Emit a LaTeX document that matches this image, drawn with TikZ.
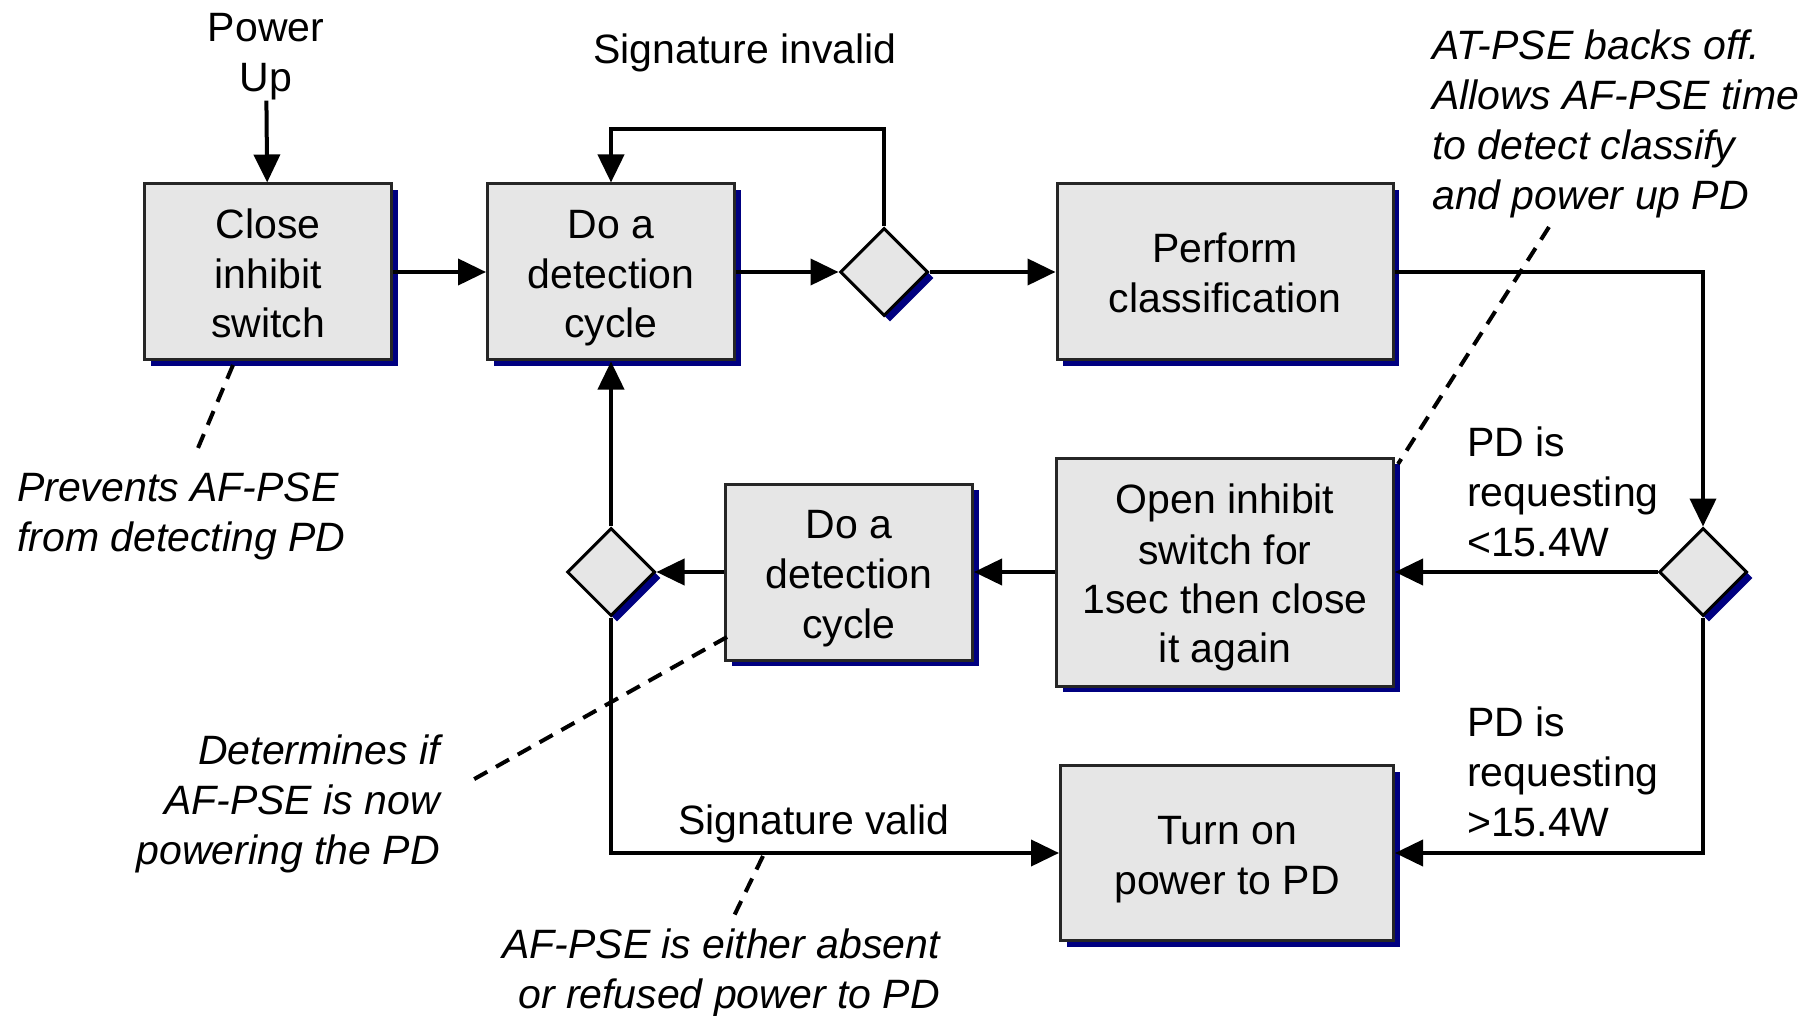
\documentclass[tikz,border=0pt]{standalone}
\usepackage{fontspec}
\setmainfont{Liberation Sans}
\usetikzlibrary{arrows.meta,shapes.geometric,shadows}
\definecolor{boxfill}{HTML}{E6E6E6}
\definecolor{shadowblue}{HTML}{000080}
\newcommand\ls{\rule[-9pt]{0pt}{50pt}}
\newcommand\lt{\rule[-8pt]{0pt}{49pt}}
\begin{document}
\begin{tikzpicture}[x=1pt,y=-1pt,
  txt/.style={font=\fontsize{41}{50}\selectfont, align=center, inner sep=0pt},
  itxt/.style={font=\fontsize{41}{50}\selectfont\itshape, inner sep=0pt},
  navyshadow/.style={drop shadow={shadow xshift=6pt, shadow yshift=-6pt, fill=shadowblue, opacity=1}},
  procbox/.style={draw=black!85, line width=3pt, fill=boxfill, inner sep=0pt, align=center,
    font=\fontsize{41}{50}\selectfont, navyshadow},
  decis/.style={diamond, draw=black, line width=3pt, fill=boxfill, inner sep=0pt,
    minimum width=88pt, minimum height=88pt, navyshadow},
  flow/.style={line width=4pt, -{Triangle[length=28pt,width=26pt]}},
  note/.style={line width=4pt, dash pattern=on 15pt off 10pt}
]
\useasboundingbox[fill=white] (0,0) rectangle (1816,1016);

% process boxes
\node[procbox, minimum width=247pt, minimum height=176pt] (b1) at (268,272) {\ls Close\\\ls inhibit\\\ls switch};
\node[procbox, minimum width=247pt, minimum height=176pt] (b2) at (611,272) {\ls Do a\\\ls detection\\\ls cycle};
\node[decis] (d1) at (884,272) {};
\node[procbox, minimum width=336pt, minimum height=176pt] (b3) at (1225,272) {\ls Perform\\\ls classification};
\node[decis] (d2) at (1703,572) {};
\node[procbox, minimum width=337pt, minimum height=228pt, font=\fontsize{41}{49}\selectfont] (b4) at (1225,572) {\lt Open inhibit\\\lt switch for\\\lt 1sec then close\\\lt it again};
\node[procbox, minimum width=247pt, minimum height=176pt] (b5) at (849,572) {\ls Do a\\\ls detection\\\ls cycle};
\node[decis] (d3) at (611,572) {};
\node[procbox, minimum width=333pt, minimum height=175pt] (b6) at (1227,853) {\ls Turn on\\\ls power to PD};

% plain labels
\node[txt] (pu) at (266,57) {Power\\Up};
\node[txt] (sinv) at (745,53) {Signature invalid};
\node[txt] (sval) at (814,824) {Signature valid};
\node[txt, align=left, anchor=west] (lt) at (1467,492) {PD is\\requesting\\<15.4W};
\node[txt, align=left, anchor=west] (gt) at (1467,772) {PD is\\requesting\\>15.4W};

% italic notes
\node[itxt, align=left, anchor=west] (n1) at (1432,124) {AT-PSE backs off.\\Allows AF-PSE time\\to detect classify\\and power up PD};
\node[itxt, align=left, anchor=west] (n2) at (17,516) {Prevents AF-PSE\\from detecting PD};
\node[itxt, align=right, anchor=east] (n3) at (440,804) {Determines if\\AF-PSE is now\\powering the PD};
\node[itxt, align=right, anchor=east] (n4) at (940,973) {AF-PSE is either absent\\or refused power to PD};

% connectors
\draw[flow] (pu) -- (b1);
\draw[flow] (b1) -- (b2);
\draw[flow] (b2) -- (d1);
\draw[flow] (d1.north) -- ++(0,-97) -| (b2.north);
\draw[flow] (d1) -- (b3);
\draw[flow] (b3.east) -| (d2.north);
\draw[flow] (d2.west) -- (d2.west -| b4.east);
\draw[flow] (d2.south) |- (b6.east);
\draw[flow] (b4.west |- b5.east) -- (b5.east);
\draw[flow] (b5) -- (d3);
\draw[flow] (d3) -- (b2);
\draw[flow] (d3.south) |- (b6.west);

% dashed note leaders
\coordinate (n1a) at (1549,227);
\coordinate (n1b) at (1398,464);
\coordinate (n2a) at (233,365);
\coordinate (n2b) at (198,448);
\coordinate (n3a) at (727,637);
\coordinate (n3b) at (469,782);
\coordinate (n4a) at (763,856);
\coordinate (n4b) at (733,918);
\draw[note] (n1a) -- (n1b);
\draw[note] (n2a) -- (n2b);
\draw[note] (n3a) -- (n3b);
\draw[note] (n4a) -- (n4b);
\end{tikzpicture}
\end{document}
